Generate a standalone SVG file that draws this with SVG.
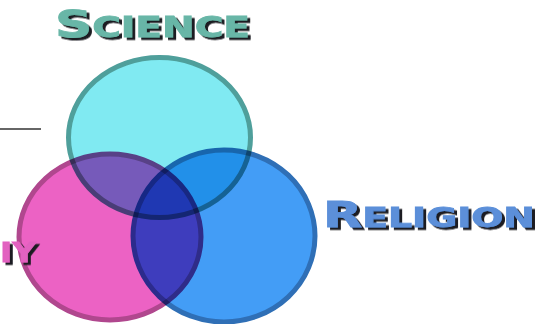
<svg xmlns="http://www.w3.org/2000/svg" width="551" height="324" viewBox="0 0 551 324">
  <defs>
    <filter id="shadow" x="-10%" y="-30%" width="120%" height="160%">
      <feDropShadow dx="3" dy="2.5" stdDeviation="0.4" flood-color="#1e1e22" flood-opacity="1"/>
    </filter>
  </defs>
  <style>
    .c { stroke-width: 5; mix-blend-mode: multiply; }
    .lbl { font-family: "DejaVu Sans", "Liberation Sans", sans-serif; font-weight: bold; filter: url(#shadow); stroke-width: 0.8; }
  </style>
  <rect width="551" height="324" fill="#ffffff"/>
  <g id="circles" style="isolation:isolate">
    <g id="science-circle"><ellipse class="c" cx="159.5" cy="137.5" rx="91" ry="80" fill="#80eaf2" stroke="#4f9f9b"/></g>
    <g id="philosophy-circle"><ellipse class="c" cx="110" cy="237" rx="91" ry="83" fill="#ec62c4" stroke="#b0478e"/></g>
    <g id="religion-circle"><ellipse class="c" cx="224" cy="236" rx="91" ry="86" fill="#439df6" stroke="#2f6fb6"/></g>
  </g>
  <g id="connectors">
    <line x1="0" y1="129" x2="41" y2="129" stroke="#333" stroke-width="1.6"/>
  </g>
  <g id="science-label">
    <text class="lbl" x="55" y="37" textLength="195" lengthAdjust="spacingAndGlyphs" font-size="28" fill="#68b6a7" stroke="#68b6a7"><tspan font-size="37">S</tspan>CIENCE</text>
  </g>
  <g id="religion-label">
    <text class="lbl" x="323" y="227" textLength="212" lengthAdjust="spacingAndGlyphs" font-size="26" fill="#5b8fd9" stroke="#5b8fd9"><tspan font-size="35">R</tspan>ELIGION</text>
  </g>
  <g id="philosophy-label">
    <text class="lbl" x="0" y="262" textLength="36" lengthAdjust="spacingAndGlyphs" font-size="26" fill="#e262c0" stroke="#e262c0">IY</text>
  </g>
</svg>
